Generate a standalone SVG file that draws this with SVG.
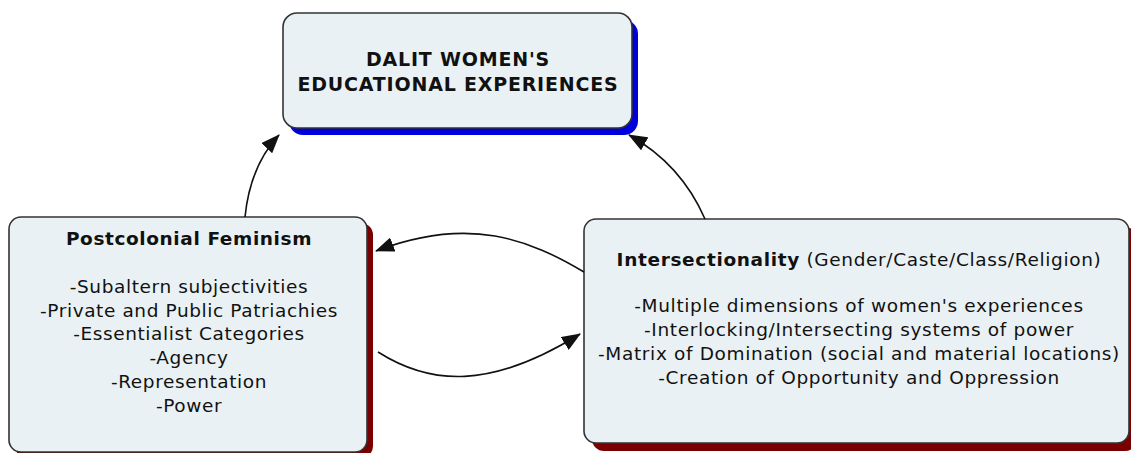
<svg xmlns="http://www.w3.org/2000/svg" width="1131" height="453" viewBox="0 0 1131 453">
<style>
.box{fill:#eaf1f4;stroke:#333;stroke-width:1.6}
.t{font-family:"DejaVu Sans",Verdana,sans-serif;fill:#111;text-anchor:middle}
.b{font-weight:bold}
.l{font-size:18.5px;letter-spacing:0.6px}
.r{font-size:18.5px;letter-spacing:0.65px}
.c{fill:none;stroke:#111;stroke-width:1.6}
</style>
<defs>
<marker id="ah" viewBox="0 0 19 15" refX="18" refY="7.5" markerWidth="19" markerHeight="15" markerUnits="userSpaceOnUse" orient="auto">
<path d="M0,0 L19,7.5 L0,15 z" fill="#111"/>
</marker>
</defs>
<rect width="1131" height="453" fill="#fff"/>
<g id="node-dalit">
<rect x="289" y="20" width="349" height="115" rx="14" fill="#0000dd"/>
<rect class="box" x="283" y="13" width="349" height="115" rx="14"/>
<text class="t b" x="458" y="66" font-size="19" letter-spacing="0.8">DALIT WOMEN'S</text>
<text class="t b" x="458" y="91" font-size="19" letter-spacing="0.8">EDUCATIONAL EXPERIENCES</text>
</g>
<g id="node-postcolonial">
<rect x="15" y="223" width="358" height="235" rx="12" fill="#7a0000"/>
<rect class="box" x="9" y="217" width="358" height="235" rx="12"/>
<text class="t b l" x="189" y="245">Postcolonial Feminism</text>
<text class="t l" x="189" y="293">-Subaltern subjectivities</text>
<text class="t l" x="189" y="317">-Private and Public Patriachies</text>
<text class="t l" x="189" y="340">-Essentialist Categories</text>
<text class="t l" x="189" y="364">-Agency</text>
<text class="t l" x="189" y="388">-Representation</text>
<text class="t l" x="189" y="412">-Power</text>
</g>
<g id="node-intersectionality">
<rect x="592" y="227" width="545" height="224" rx="12" fill="#7a0000"/>
<rect class="box" x="584" y="219" width="545" height="224" rx="12"/>
<text class="t r" x="859" y="266"><tspan class="b">Intersectionality</tspan> (Gender/Caste/Class/Religion)</text>
<text class="t r" x="859" y="312">-Multiple dimensions of women's experiences</text>
<text class="t r" x="859" y="336">-Interlocking/Intersecting systems of power</text>
<text class="t r" x="859" y="360">-Matrix of Domination (social and material locations)</text>
<text class="t r" x="859" y="384">-Creation of Opportunity and Oppression</text>
</g>
<g id="connectors">
<path class="c" d="M245,217 Q250,166 279,135" marker-end="url(#ah)"/>
<path class="c" d="M705,219 Q681,164 629,135" marker-end="url(#ah)"/>
<path class="c" d="M584,272 C530,240 470,215 376,251" marker-end="url(#ah)"/>
<path class="c" d="M378,352 C430,385 490,390 580,334" marker-end="url(#ah)"/>
</g>
</svg>
